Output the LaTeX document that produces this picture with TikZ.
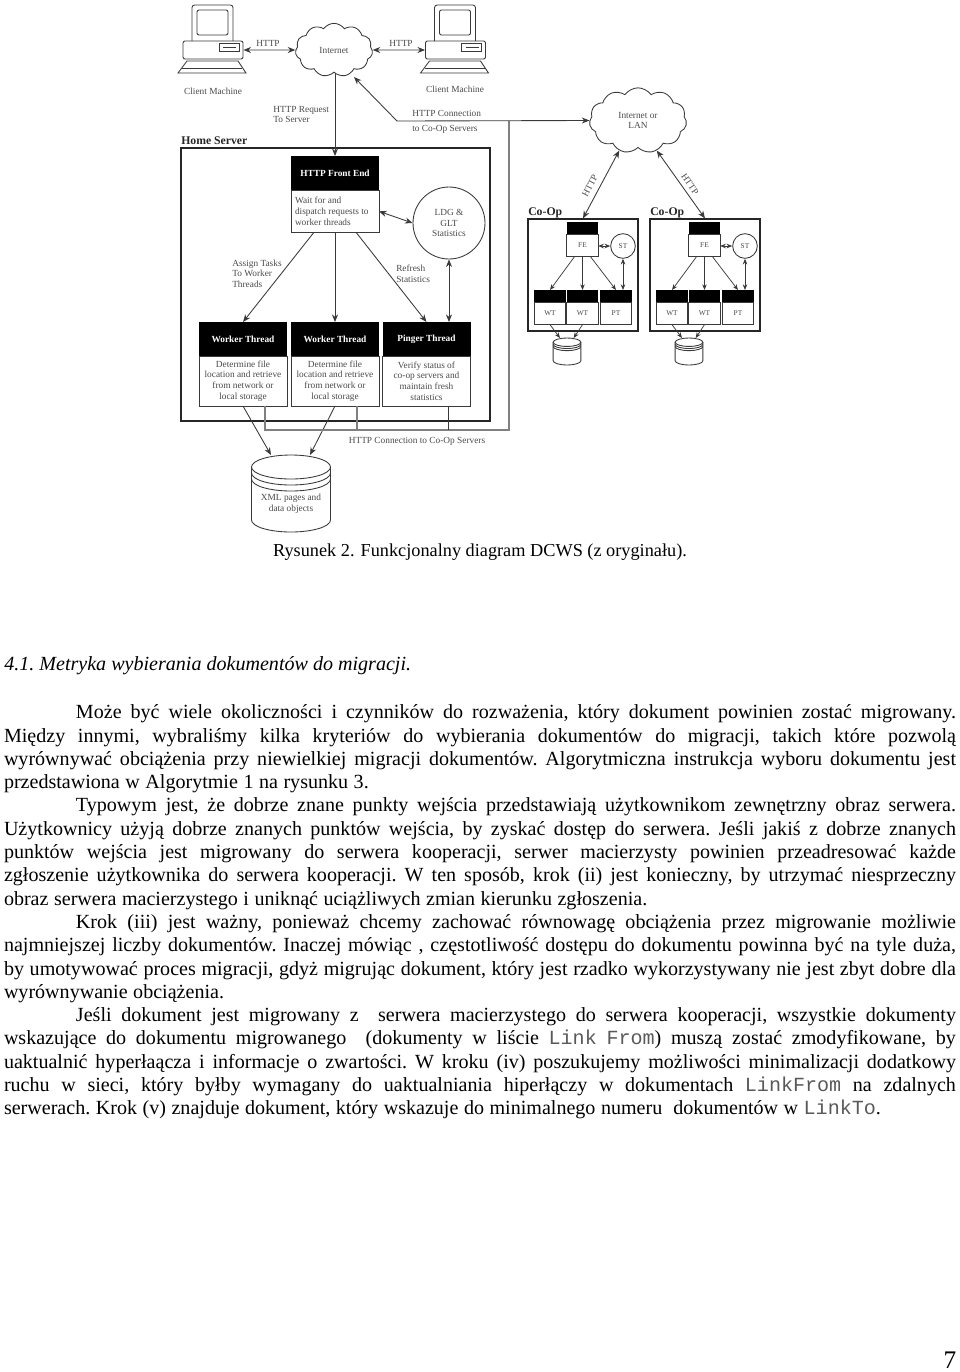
\documentclass[tikz,border=0pt]{standalone}
\usepackage{fontspec}
\setmainfont{Liberation Serif}
\setmonofont{Liberation Mono}
\usepackage{xcolor}
\usetikzlibrary{arrows.meta,positioning,shapes.geometric,shapes.symbols}
\definecolor{figline}{HTML}{3A3A3A}
\definecolor{figtext}{HTML}{4A4A4A}
\definecolor{netline}{HTML}{808080}
\newcommand{\figsize}{\fontsize{7}{8}\selectfont}
\newcommand{\tinysize}{\fontsize{5.5}{6.5}\selectfont}
\newcommand{\bodysize}{\fontsize{15.05}{17.475}\selectfont\frenchspacing}
\newcommand{\code}[1]{\textcolor{black!65}{\texttt{#1}}}
\tikzset{
  wire/.style={line width=0.65pt, draw=figline},
  arrowedge/.style={-{Stealth[length=2mm,width=1.6mm]}, line width=0.65pt, draw=figline},
  bothedge/.style={{Stealth[length=2mm,width=1.6mm]}-{Stealth[length=2mm,width=1.6mm]}, line width=0.65pt, draw=figline},
  smalledge/.style={-{Stealth[length=1.5mm,width=1.2mm]}, line width=0.55pt, draw=figline},
  smallboth/.style={{Stealth[length=1.5mm,width=1.2mm]}-{Stealth[length=1.5mm,width=1.2mm]}, line width=0.55pt, draw=figline},
  netedge/.style={line width=0.9pt, draw=netline},
  figlabel/.style={font=\figsize, text=figtext, align=center, inner sep=0pt},
  leftlabel/.style={font=\figsize, text=figtext, align=left, inner sep=0pt, anchor=west},
  boldlabel/.style={font=\fontsize{8.8}{10}\selectfont\bfseries, text=black!85, inner sep=0pt, anchor=west},
  threadhead/.style={fill=black, text=white, font=\figsize\bfseries, minimum width=66pt, minimum height=25.5pt, inner sep=0pt, outer sep=0pt},
  threadbody/.style={draw=figline, line width=0.65pt, fill=white, text=figtext, font=\figsize, align=center, minimum width=66pt, minimum height=37.5pt, inner sep=0pt, outer sep=0pt},
  smallhead/.style={fill=black, minimum width=23.5pt, minimum height=9pt, inner sep=0pt, outer sep=0pt},
  smallbody/.style={draw=figline, line width=0.55pt, fill=white, text=figtext, font=\tinysize, minimum width=23.5pt, minimum height=17pt, inner sep=0pt, outer sep=0pt},
  serverbox/.style={draw=black!85, line width=1.1pt, inner sep=0pt},
  statcircle/.style={circle, draw=figline, line width=0.65pt, fill=white, text=figtext, font=\figsize, align=center, inner sep=0pt},
  netcloud/.style={cloud, cloud puffs=11, cloud puff arc=110, draw=figline, line width=0.65pt, text=figtext, font=\figsize, align=center, inner sep=0pt},
  bodytext/.style={font=\bodysize, execute at begin node={\spaceskip=4.15pt plus 2.5pt minus 1.2pt\relax}, text width=714pt, align=justify, inner sep=0pt, outer sep=0pt},
  computer/.pic={
    \draw[wire, rounded corners=2pt] (-21,-9) -- (-21,-45) -- (20,-45) -- (20,-9);
    \draw[wire, rounded corners=1.5pt] (-16,-15) rectangle (15,-40);
    \node[draw=figline, line width=0.65pt, rounded corners=1.5pt, minimum width=45pt, minimum height=13.5pt, inner sep=0pt] (-base) at (0,0) {};
    \draw[wire] (6,-7) rectangle (26,1);
    \draw[wire] (10,-3) -- (23,-3);
    \draw[wire] (-26,11) -- (25,11) -- (33,23) -- (-35,23) -- cycle;
    \draw[wire] (-31,18) -- (29,18);
  },
  store/.pic={
    \draw[wire, fill=white] (-39.5,-26.5) -- (-39.5,26.5) arc (180:0:39.5 and 12) -- (39.5,-26.5);
    \draw[wire, fill=white] (0,-26.5) ellipse (39.5 and 12);
    \draw[wire] (-39.5,-20.5) arc (180:0:39.5 and 12);
    \draw[wire] (-39.5,-14.5) arc (180:0:39.5 and 12);
    \coordinate (-left) at (-20,-38.5);
    \coordinate (-right) at (19,-38.5);
  }
}
\begin{document}
\begin{tikzpicture}[x=0.75pt, y=-0.75pt]
  \useasboundingbox (0,0) rectangle (960,1372);
  % clients and internet
  \pic (clientleft) at (213,50) {computer};
  \pic (clientright) at (455.5,50) {computer};
  \node[figlabel] (clientlefttext) at (213,91) {Client Machine};
  \node[figlabel] (clientrighttext) at (455,89) {Client Machine};
  \node[netcloud, minimum width=58pt, minimum height=40pt] (internet) at (334,50) {Internet};
  \node[netcloud, minimum width=73pt, minimum height=49pt] (lan) at (638,120.5) {Internet or\\LAN};
  \draw[bothedge] (clientleft-base.east) -- (internet.west);
  \draw[bothedge] (internet.east) -- (clientright-base.west);
  \node[figlabel] (httpleft) at (268,43) {HTTP};
  \node[figlabel] (httpright) at (401,43) {HTTP};
  \node[leftlabel] (requesttext) at (273,114.5) {HTTP Request\\To Server};
  \node[leftlabel] (nettextup) at (412,113) {HTTP Connection};
  \node[leftlabel] (nettextdown) at (412,129) {to Co-Op Servers};
  % home server
  \node[boldlabel] (hometext) at (181,141) {Home Server};
  \node[serverbox, minimum width=231.75pt, minimum height=204.75pt] (home) at (335.5,284.5) {};
  \node[threadhead] (fronthead) at (335,173) {HTTP Front End};
  \node[threadbody, below=0pt of fronthead, minimum height=32pt] (frontbody) {\hspace*{3pt}\parbox{63pt}{Wait for and\\dispatch requests to\\worker threads}};
  \node[statcircle, minimum size=54pt] (ldg) at (449,223) {LDG \&\\GLT\\Statistics};
  \node[threadhead] (workerheadA) at (243,339) {Worker Thread};
  \node[threadbody, below=0pt of workerheadA] (workerbodyA) {Determine file\\location and retrieve\\from network or\\local storage};
  \node[threadhead] (workerheadB) at (335,339) {Worker Thread};
  \node[threadbody, below=0pt of workerheadB] (workerbodyB) {Determine file\\location and retrieve\\from network or\\local storage};
  \node[threadhead] (pingerhead) at (426.5,339) {Pinger Thread};
  \node[threadbody, below=0pt of pingerhead] (pingerbody) {Verify status of\\co-op servers and\\maintain fresh\\statistics};
  \node[leftlabel] (assigntext) at (232,273.5) {Assign Tasks\\To Worker\\Threads};
  \node[leftlabel] (refreshtext) at (396,273.5) {Refresh\\Statistics};
  \draw[arrowedge] (internet.south -| fronthead) -- (fronthead.north);
  \draw[bothedge] (frontbody.east) -- (ldg.west);
  \draw[arrowedge] ([xshift=-16pt]frontbody.south) -- (workerheadA.north);
  \draw[arrowedge] (frontbody.south) -- (workerheadB.north);
  \draw[arrowedge] ([xshift=16pt]frontbody.south) -- (pingerhead.north);
  \draw[bothedge] (ldg.south) -- (ldg.south |- pingerhead.north);
  % storage
  \pic (bigstore) at (291,493.5) {store};
  \node[figlabel] (storetext) at (291,503.5) {XML pages and\\data objects};
  \draw[arrowedge] (workerbodyA.south) -- (bigstore-left);
  \draw[arrowedge] (workerbodyB.south) -- (bigstore-right);
  % connection to co-op servers
  \coordinate (nethitA) at (265,430);
  \coordinate (nethitB) at (357,430);
  \coordinate (nethitC) at (448,430);
  \coordinate (netcorner) at (509,430);
  \coordinate (netelbow) at (397,121);
  \coordinate (netinternet) at (354,77);
  \draw[netedge] (workerbodyA.south -| nethitA) -- (nethitA) -- (netcorner) -- (netcorner |- netelbow);
  \draw[netedge] (workerbodyB.south -| nethitB) -- (nethitB);
  \draw[wire] (pingerbody.south -| nethitC) -- (nethitC);
  \draw[arrowedge] (netelbow) -- (netinternet);
  \draw[arrowedge] (netelbow) -- (lan.west);
  \node[figlabel] (nettext) at (417,441) {HTTP Connection to Co-Op Servers};
  % co-op servers
  \foreach \name/\dx/\ang in {A/0/238,B/122/302}{
    \begin{scope}[shift={(\dx,0)}]
      \node[serverbox, line width=0.9pt, minimum width=82.5pt, minimum height=84pt] (coop\name) at (583,275) {};
      \node[boldlabel] (cooptext\name) at (528,213) {Co-Op};
      \node[smallhead] (fehead\name) at (582.5,228) {};
      \node[smallbody, below=0pt of fehead\name] (febody\name) {FE};
      \node[statcircle, font=\tinysize, minimum size=18.5pt] (st\name) at (623,246) {ST};
      \node[smallhead] (wtheadA\name) at (550,296) {};
      \node[smallbody, below=0pt of wtheadA\name] (wtbodyA\name) {WT};
      \node[smallhead] (wtheadB\name) at (582.5,296) {};
      \node[smallbody, below=0pt of wtheadB\name] (wtbodyB\name) {WT};
      \node[smallhead] (pthead\name) at (616,296) {};
      \node[smallbody, below=0pt of pthead\name] (ptbody\name) {PT};
      \pic[scale=0.35] (smallstore\name) at (567,351.5) {store};
      \draw[smallboth] (febody\name.east |- st\name) -- (st\name.west);
      \draw[smalledge] ([xshift=-6pt]febody\name.south) -- (wtheadA\name.north);
      \draw[smalledge] (febody\name.south) -- (wtheadB\name.north);
      \draw[smalledge] ([xshift=6pt]febody\name.south) -- (pthead\name.north);
      \draw[smallboth] (st\name.south) -- (st\name.south |- pthead\name.north);
      \draw[smalledge] (wtbodyA\name.south) -- (smallstore\name-left);
      \draw[smalledge] (wtbodyB\name.south) -- (smallstore\name-right);
      \draw[bothedge] (lan.\ang) -- (coop\name.north);
    \end{scope}
  }
  \node[figlabel, rotate=62] (httpcoopA) at (590,186) {HTTP};
  \node[figlabel, rotate=-55] (httpcoopB) at (690,184) {HTTP};
  % text of the page
  \node[font=\fontsize{13.7}{16}\selectfont, inner sep=0pt] (caption) at (480,552) {Rysunek 2. Funkcjonalny diagram DCWS (z oryginału).};
  \node[font=\bodysize\itshape, inner sep=0pt, anchor=west] (section) at (4,666) {4.1. Metryka wybierania dokumentów do migracji.};
  \node[bodytext, anchor=north west] (paraone) at (4,702.4) {\strut\hspace*{54pt}Może być wiele okoliczności i czynników do rozważenia, który dokument powinien zostać migrowany.\linebreak
  Między innymi, wybraliśmy kilka kryteriów do wybierania dokumentów do migracji, takich które pozwolą\linebreak
  wyrównywać obciążenia przy niewielkiej migracji dokumentów. Algorytmiczna instrukcja wyboru dokumentu jest\linebreak
  przedstawiona w Algorytmie 1 na rysunku 3.\strut};
  \node[bodytext, below=0pt of paraone] (paratwo) {\strut\hspace*{54pt}Typowym jest, że dobrze znane punkty wejścia przedstawiają użytkownikom zewnętrzny obraz serwera.\linebreak
  Użytkownicy użyją dobrze znanych punktów wejścia, by zyskać dostęp do serwera. Jeśli jakiś z dobrze znanych\linebreak
  punktów wejścia jest migrowany do serwera kooperacji, serwer macierzysty powinien przeadresować każde\linebreak
  zgłoszenie użytkownika do serwera kooperacji. W ten sposób, krok (ii) jest konieczny, by utrzymać niesprzeczny\linebreak
  obraz serwera macierzystego i uniknąć uciążliwych zmian kierunku zgłoszenia.\strut};
  \node[bodytext, below=0pt of paratwo] (parathree) {\strut\hspace*{54pt}Krok (iii) jest ważny, ponieważ chcemy zachować równowagę obciążenia przez migrowanie możliwie\linebreak
  najmniejszej liczby dokumentów. Inaczej mówiąc , częstotliwość dostępu do dokumentu powinna być na tyle duża,\linebreak
  by umotywować proces migracji, gdyż migrując dokument, który jest rzadko wykorzystywany nie jest zbyt dobre dla\linebreak
  wyrównywanie obciążenia.\strut};
  \node[bodytext, below=0pt of parathree] (parafour) {\strut\hspace*{54pt}Jeśli dokument jest migrowany z~ serwera macierzystego do serwera kooperacji, wszystkie dokumenty\linebreak
  wskazujące do dokumentu migrowanego~ (dokumenty w liście \code{Link From}) muszą zostać zmodyfikowane, by\linebreak
  uaktualnić hyperłaącza i informacje o zwartości. W kroku (iv) poszukujemy możliwości minimalizacji dodatkowy\linebreak
  ruchu w sieci, który byłby wymagany do uaktualniania hiperłączy w dokumentach \code{LinkFrom} na zdalnych\linebreak
  serwerach. Krok (v) znajduje dokument, który wskazuje do minimalnego numeru~ dokumentów w \code{LinkTo}.\strut};
  \node[font=\fontsize{19}{21}\selectfont, inner sep=0pt] (pagenumber) at (950,1360.5) {7};
\end{tikzpicture}
\end{document}
